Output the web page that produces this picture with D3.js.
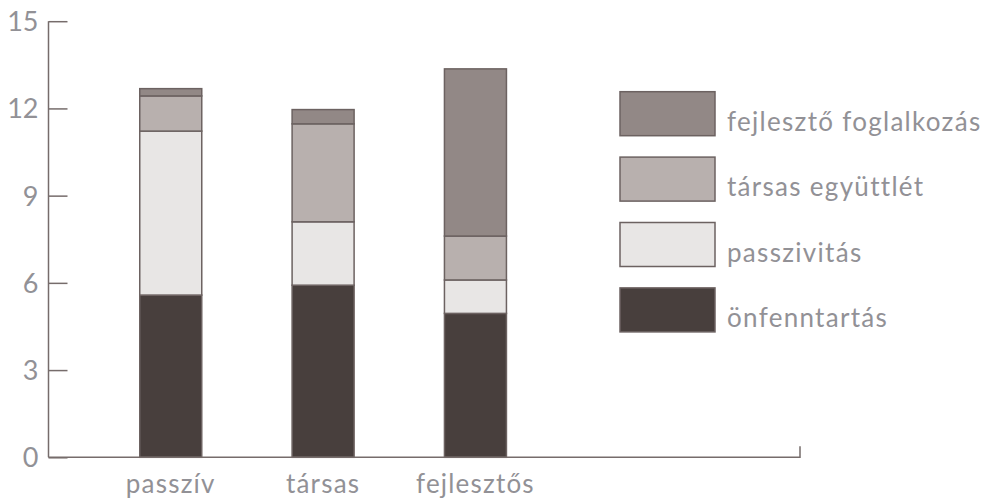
<!DOCTYPE html>
<html><head><meta charset="utf-8">
<script src="https://cdn.jsdelivr.net/npm/d3@7"></script>
<style>body{margin:0;background:#fff;} svg{display:block;} text{font-family:Lato,"Open Sans",sans-serif;fill:#929196;font-weight:400;}</style>
</head><body>
<script>
const categories = ["passzív", "társas", "fejlesztős"];
const seriesNames = ["önfenntartás", "passzivitás", "társas együttlét", "fejlesztő foglalkozás"];
const onfenntartas = [5.58, 5.92, 4.95];
const passzivitas = [5.64, 2.18, 1.15];
const tarsasEgyuttlet = [1.21, 3.37, 1.51];
const fejleszto = [0.25, 0.49, 5.75];
const yTicks = [0, 3, 6, 9, 12, 15];
const colors = ["#483f3d", "#e8e6e5", "#b8b0ae", "#928886"];

const W = 983, H = 499;
const svg = d3.select("body").append("svg").attr("width", W).attr("height", H);
const series = [onfenntartas, passzivitas, tarsasEgyuttlet, fejleszto];
const rows = categories.map((c, i) => {
  const r = {cat: c};
  seriesNames.forEach((s, k) => r[s] = series[k][i]);
  return r;
});
const stacked = d3.stack().keys(seriesNames)(rows);

const x0 = 48.5;
const y = d3.scaleLinear().domain([0, 15]).range([457.3, 21.2]);
const x = d3.scaleBand().domain(categories).range([x0, 597.7]).paddingInner(0.593).paddingOuter(0.599);
const axisColor = "#766c6b";

// bars
svg.append("g").selectAll("g").data(stacked).join("g")
  .attr("fill", (d, i) => colors[i])
  .selectAll("rect").data(d => d).join("rect")
  .attr("x", d => x(d.data.cat))
  .attr("width", x.bandwidth())
  .attr("y", d => y(d[1]))
  .attr("height", d => y(d[0]) - y(d[1]))
  .attr("stroke", "#6c6261").attr("stroke-width", 1.5);

// y axis
const yAxis = svg.append("g").attr("transform", `translate(${x0},0)`)
  .call(d3.axisRight(y).tickValues(yTicks).tickSize(19).tickFormat(""));
yAxis.select(".domain").remove();
yAxis.selectAll("line").attr("stroke", axisColor).attr("stroke-width", 1.5);
svg.append("line").attr("x1", x0).attr("x2", x0).attr("y1", y(15)).attr("y2", y(0))
  .attr("stroke", axisColor).attr("stroke-width", 1.5);
svg.append("g").selectAll("text").data(yTicks).join("text")
  .attr("x", 38.5).attr("y", d => y(d) + 10)
  .attr("text-anchor", "end").attr("font-size", 27).text(d => d);

// x axis
svg.append("path").attr("d", `M${x0},${y(0)}H800V${y(0) - 11}`)
  .attr("fill", "none").attr("stroke", axisColor).attr("stroke-width", 1.5);
svg.append("g").selectAll("text").data(categories).join("text")
  .attr("x", d => x(d) + x.bandwidth() / 2).attr("y", 493)
  .attr("text-anchor", "middle").attr("font-size", 26).attr("letter-spacing", 1.2).text(d => d);

// legend
const legendItems = seriesNames.slice().reverse();
const lg = svg.append("g");
legendItems.forEach((name, i) => {
  const top = 91.7 + i * 65.4;
  lg.append("rect").attr("x", 620).attr("y", top).attr("width", 95).attr("height", 44)
    .attr("fill", colors[seriesNames.indexOf(name)]).attr("stroke", "#6c6261").attr("stroke-width", 1.5);
  lg.append("text").attr("x", 727).attr("y", top + 39).attr("font-size", 26).attr("letter-spacing", 1.3).text(name);
});
</script>
</body></html>
